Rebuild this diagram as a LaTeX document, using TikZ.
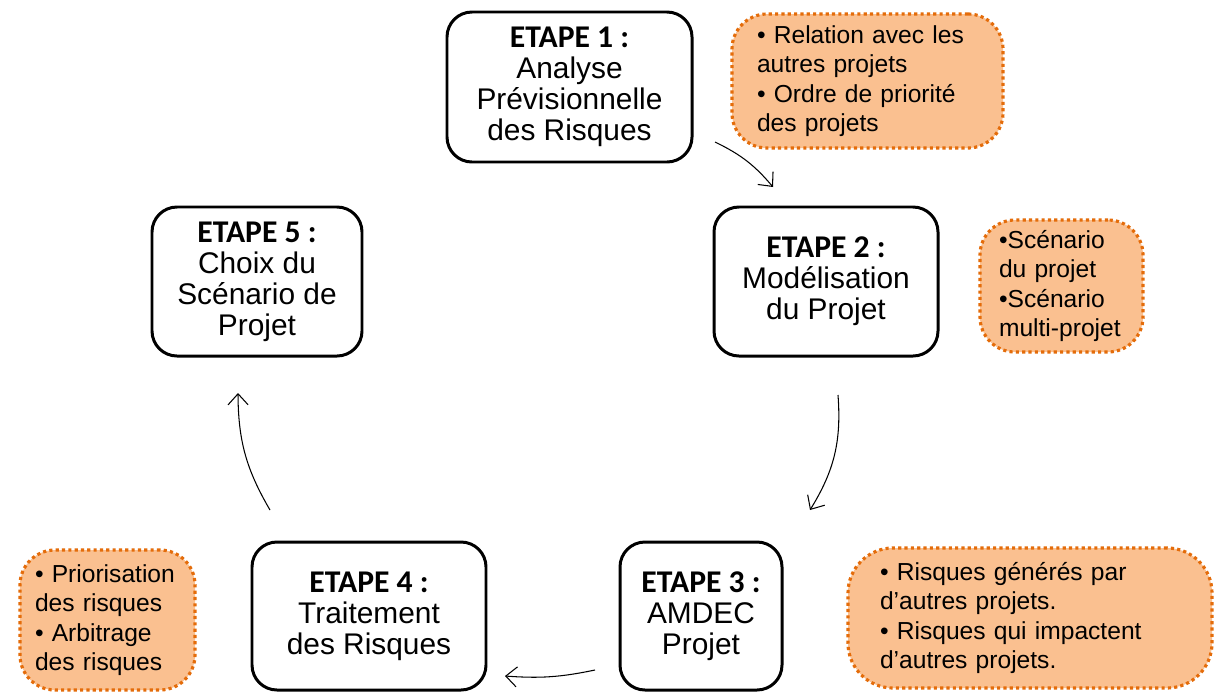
\documentclass[tikz,border=0pt]{standalone}
\usepackage{fontspec}
\setmainfont{Liberation Sans}
\newfontfamily\calibri{Carlito}
\usetikzlibrary{arrows.meta, calc}
\definecolor{cNote}{HTML}{FAC090}
\definecolor{cNoteLine}{HTML}{E46C0A}

\newcommand{\etape}[1]{{\calibri\bfseries\fontsize{18}{17.5}\selectfont ETAPE~#1 :}}

\begin{document}
\begin{tikzpicture}[
    >={Straight Barb[length=2.2mm, width=4mm]},
    % --- Node styles ---
    stepbox/.style={
        draw, line width=1.7pt, rounded corners=0.5cm, fill=white,
        align=center, inner sep=0pt,
        font=\fontsize{17}{17.6}\selectfont
    },
    note/.style={
        draw=cNoteLine, fill=cNote, line width=1.8pt,
        dash pattern=on 1.8pt off 1.8pt, rounded corners=0.7cm,
        align=left, inner sep=0pt,
        font=\fontsize{14}{16.7}\selectfont
    },
    % --- Arrow styles ---
    arr/.style={->, line width=0.6pt, draw=black},
]

% page frame
\useasboundingbox[fill=white] (0, 0) rectangle (24.3, -13.82);

% =============================================
% STEPS
% =============================================

\node[stepbox, minimum width=4.9cm, minimum height=3.0cm] (s1) at (11.39, -1.74) {
    \etape{1}\\
    Analyse\\
    Prévisionnelle\\
    des Risques
};

\node[stepbox, minimum width=4.48cm, minimum height=2.98cm] (s2) at (16.52, -5.63) {
    \etape{2}\\
    Modélisation\\
    du Projet
};

\node[stepbox, minimum width=3.24cm, minimum height=2.96cm] (s3) at (14.02, -12.32) {
    \etape{3}\\
    AMDEC\\
    Projet
};

\node[stepbox, minimum width=4.68cm, minimum height=2.96cm] (s4) at (7.38, -12.32) {
    \etape{4}\\
    Traitement\\
    des Risques
};

\node[stepbox, minimum width=4.2cm, minimum height=2.98cm] (s5) at (5.14, -5.63) {
    \etape{5}\\
    Choix du\\
    Scénario de\\
    Projet
};

% =============================================
% NOTES (dotted orange bubbles)
% =============================================

\node[note, minimum width=5.42cm, minimum height=2.68cm, text width=4.42cm] (n1) at (17.35, -1.62) {
    • Relation avec les\\
    autres projets\\
    • Ordre de priorité\\
    des projets
};

\node[note, minimum width=3.26cm, minimum height=2.64cm, text width=2.5cm] (n2) at (21.23, -5.72) {
    •Scénario\\
    du projet\\
    •Scénario\\
    multi-projet
};

\node[note, minimum width=7.28cm, minimum height=2.8cm, text width=6cm, rounded corners=0.9cm] (n3) at (20.6, -12.36) {
    • Risques générés par\\
    d’autres projets.\\
    • Risques qui impactent\\
    d’autres projets.
};

\node[note, minimum width=3.5cm, minimum height=2.8cm, text width=2.9cm] (n4) at (2.15, -12.4) {
    • Priorisation\\
    des risques\\
    • Arbitrage\\
    des risques
};

% =============================================
% ARROWS (cycle, not touching the boxes)
% =============================================

\coordinate (a1s) at (14.30, -2.84);
\coordinate (a1e) at (15.46, -3.74);
\coordinate (a2s) at (16.76, -7.90);
\coordinate (a2e) at (16.20, -10.20);
\coordinate (a3s) at (11.90, -13.40);
\coordinate (a3e) at (10.10, -13.52);
\coordinate (a4s) at (5.40, -10.20);
\coordinate (a4e) at (4.76, -7.86);

\draw[arr] (a1s) to[bend left=12] (a1e);
\draw[arr] (a2s) to[bend left=18] (a2e);
\draw[arr] (a3s) to[bend left=8] (a3e);
\draw[arr] (a4s) to[bend left=15] (a4e);

\end{tikzpicture}
\end{document}
